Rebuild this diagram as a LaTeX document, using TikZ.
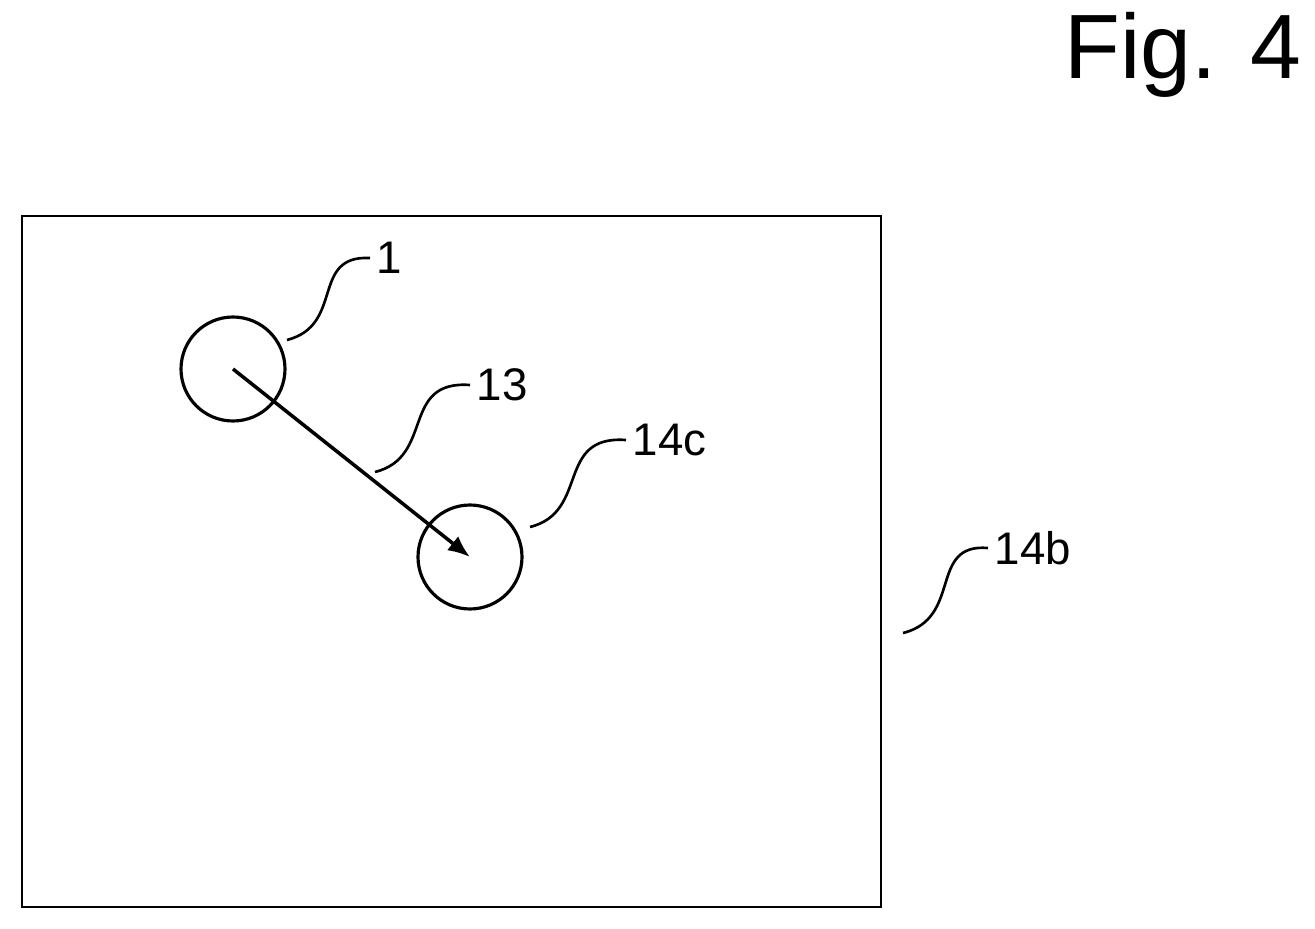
\documentclass[tikz,border=0pt]{standalone}
\usepackage{fontspec}
\setmainfont{Liberation Sans}
\usetikzlibrary{arrows.meta}
\begin{document}
\begin{tikzpicture}[x=0.02cm,y=-0.02cm,line width=1.8pt,
  lead/.style={line width=1.5pt},
  lab/.style={font=\fontsize{26}{30}\selectfont,anchor=west,inner xsep=3pt,inner ysep=0}]
\useasboundingbox (0,0) rectangle (1315,929);
\node[font=\fontsize{52}{58}\selectfont,anchor=center] (fig) at (1183,55) {Fig. 4};
\draw[line width=1.5pt] (22,216) rectangle (881,907);
\node[circle,draw,minimum size=104*0.02cm,inner sep=0] (c1) at (233,369) {};
\node[circle,draw,minimum size=104*0.02cm,inner sep=0] (c2) at (470,557) {};
\coordinate (a1) at (233,369);
\coordinate (a2) at (470,557);
\draw[-{Latex[length=22*0.02cm,width=18*0.02cm]},line width=2pt] (a1) -- (a2);
\node[lab] (l1) at (370,258) {1};
\node[lab] (l13) at (470,385) {13};
\node[lab] (l14c) at (626,440) {14c};
\node[lab] (l14b) at (988,548) {14b};
\coordinate (s1) at (287,340);
\coordinate (s13) at (375,472);
\coordinate (s14c) at (530,527);
\coordinate (s14b) at (903,633);
\draw[lead] (s1) .. controls (345,325) and (310,255) .. (l1.west);
\draw[lead] (s13) .. controls (435,457) and (400,380) .. (l13.west);
\draw[lead] (s14c) .. controls (590,512) and (555,435) .. (l14c.west);
\draw[lead] (s14b) .. controls (963,618) and (928,543) .. (l14b.west);
\end{tikzpicture}
\end{document}
